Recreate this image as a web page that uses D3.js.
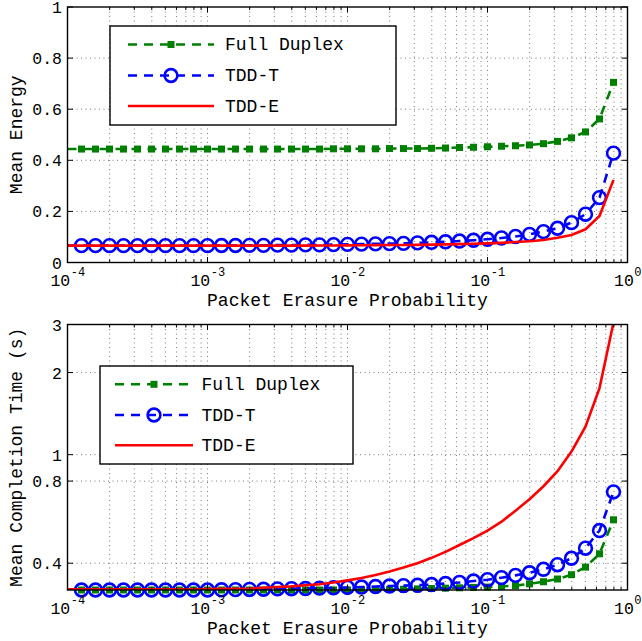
<!DOCTYPE html>
<html><head><meta charset="utf-8">
<script src="https://cdn.jsdelivr.net/npm/d3@7"></script>
<style>
body{margin:0;background:#fff}
svg{display:block}
text{font-family:"Liberation Mono","Courier New",monospace;fill:#000}
</style>
</head><body>
<svg id="chart" width="642" height="641"></svg>
<script>
// ---- data ----
// packet erasure probability sample points, as log10 exponents
const pExponents = [-4.0,-3.9,-3.8,-3.7,-3.6,-3.5,-3.4,-3.3,-3.2,-3.1,
  -3.0,-2.9,-2.8,-2.7,-2.6,-2.5,-2.4,-2.3,-2.2,-2.1,
  -2.0,-1.9,-1.8,-1.7,-1.6,-1.5,-1.4,-1.3,-1.2,-1.1,
  -1.0,-0.9,-0.8,-0.7,-0.6,-0.5,-0.4,-0.3,-0.2,-0.1];

const seriesNames = ["Full Duplex", "TDD-T", "TDD-E"];

// top panel: mean energy
const energyFD = [0.444,0.444,0.444,0.444,0.444,0.444,0.444,0.444,0.444,0.444,
  0.444,0.444,0.444,0.444,0.444,0.444,0.444,0.444,0.444,0.445,
  0.445,0.445,0.445,0.446,0.446,0.446,0.447,0.448,0.450,0.451,
  0.453,0.455,0.457,0.460,0.465,0.474,0.488,0.511,0.562,0.705];
const energyTDDT = [0.066,0.066,0.066,0.066,0.066,0.066,0.066,0.066,0.066,0.066,
  0.066,0.0665,0.0665,0.067,0.067,0.068,0.068,0.069,0.069,0.070,
  0.071,0.072,0.073,0.074,0.075,0.077,0.079,0.081,0.084,0.087,
  0.091,0.096,0.102,0.110,0.121,0.134,0.156,0.189,0.254,0.428];
const energyTDDE = [0.066,0.066,0.066,0.066,0.066,0.066,0.066,0.066,0.066,0.066,
  0.066,0.066,0.066,0.066,0.066,0.066,0.066,0.0662,0.0663,0.0665,
  0.067,0.0675,0.068,0.0683,0.0687,0.069,0.070,0.071,0.072,0.0735,
  0.075,0.077,0.080,0.083,0.088,0.097,0.108,0.130,0.182,0.3235];

// bottom panel: mean completion time (s)
const timeFD = [0.319,0.319,0.319,0.319,0.319,0.319,0.319,0.319,0.319,0.319,
  0.319,0.319,0.319,0.319,0.319,0.319,0.319,0.319,0.319,0.319,
  0.319,0.3195,0.320,0.3205,0.321,0.322,0.323,0.324,0.325,0.326,
  0.327,0.329,0.331,0.336,0.342,0.350,0.363,0.387,0.433,0.577];
const timeTDDT = [0.319,0.319,0.319,0.319,0.319,0.319,0.319,0.319,0.319,0.319,
  0.319,0.3195,0.320,0.3205,0.321,0.322,0.3225,0.323,0.324,0.325,
  0.326,0.327,0.3285,0.330,0.331,0.332,0.334,0.337,0.340,0.344,
  0.348,0.354,0.361,0.369,0.380,0.395,0.417,0.454,0.527,0.730];
const timeTDDE = [0.321,0.321,0.321,0.321,0.321,0.321,0.321,0.321,0.321,0.321,
  0.3215,0.322,0.3225,0.323,0.325,0.327,0.329,0.332,0.335,0.340,
  0.346,0.353,0.362,0.373,0.386,0.400,0.4185,0.440,0.4665,0.494,
  0.527,0.568,0.623,0.6865,0.766,0.870,1.026,1.267,1.754,3.05];

const xTickExponents = [-4,-3,-2,-1,0];
const energyTicks = [0,0.2,0.4,0.6,0.8,1];
const energyTickLabels = ["0","0.2","0.4","0.6","0.8","1"];
const timeTicks = [0.4,0.8,1,2,3];
const timeTickLabels = ["0.4","0.8","1","2","3"];
const xLabel = "Packet Erasure Probability";
const energyLabel = "Mean Energy";
const timeLabel = "Mean Completion Time (s)";

// ---- styles ----
const colors = ["#008000","#0000ff","#ff0000"];
const svg = d3.select("#chart");
const left = 67.5, right = 627.5;

const pValues = pExponents.map(e => Math.pow(10, e));

function drawPanel(o) {
  const x = d3.scaleLog().domain([1e-4, 1]).range([left, right]);
  const y = o.y;
  const g = svg.append("g");
  const top = o.top, bottom = o.bottom;
  const clipId = "clip" + o.id;
  svg.append("clipPath").attr("id", clipId).append("rect")
    .attr("x", left).attr("y", top).attr("width", right-left).attr("height", bottom-top);

  // grid
  const minor = [];
  for (let e = -4; e < 0; e++) for (let m = 1; m <= 9; m++) minor.push(m*Math.pow(10,e));
  const gridG = g.append("g").attr("stroke","#000").attr("stroke-width",0.8)
    .attr("stroke-dasharray","1,3.5").attr("opacity",0.65);
  minor.filter(v => v > 1.0001e-4).forEach(v => {
    gridG.append("line").attr("x1",x(v)).attr("x2",x(v)).attr("y1",top).attr("y2",bottom);
  });
  o.ticks.forEach(t => {
    const yy = y(t);
    if (Math.abs(yy-top) < 1 || Math.abs(yy-bottom) < 1) return;
    gridG.append("line").attr("x1",left).attr("x2",right).attr("y1",yy).attr("y2",yy);
  });

  // series
  const series = o.series;
  const line = d3.line().x((d,i) => x(pValues[i])).y(d => y(d));
  const dashes = ["9,7","9,7",null];
  series.forEach((vals, si) => {
    g.append("path").attr("d", line(vals)).attr("fill","none")
      .attr("stroke", colors[si]).attr("stroke-width", 2.6)
      .attr("stroke-dasharray", dashes[si]).attr("clip-path", `url(#${clipId})`);
    if (si === 0) {
      g.append("g").selectAll("rect").data(vals.slice(1)).join("rect")
        .attr("x", (d,i) => x(pValues[i+1]) - 3.5).attr("y", d => y(d) - 3.5)
        .attr("width", 7).attr("height", 7).attr("fill", colors[0]);
    } else if (si === 1) {
      g.append("g").selectAll("circle").data(vals.slice(1)).join("circle")
        .attr("cx", (d,i) => x(pValues[i+1])).attr("cy", d => y(d))
        .attr("r", 6.4).attr("fill","none").attr("stroke", colors[1]).attr("stroke-width", 2.6);
    }
  });

  // box
  g.append("rect").attr("x",left).attr("y",top).attr("width",right-left).attr("height",bottom-top)
    .attr("fill","none").attr("stroke","#000").attr("stroke-width",1.4);

  // ticks
  const tk = g.append("g").attr("stroke","#000").attr("stroke-width",1);
  minor.concat([1]).forEach(v => {
    const isMajor = Math.abs(Math.log10(v) - Math.round(Math.log10(v))) < 1e-9;
    const L = isMajor ? 5.5 : 3;
    const xx = x(v);
    tk.append("line").attr("x1",xx).attr("x2",xx).attr("y1",bottom).attr("y2",bottom-L);
    tk.append("line").attr("x1",xx).attr("x2",xx).attr("y1",top).attr("y2",top+L);
  });
  o.ticks.forEach(t => {
    const yy = y(t);
    tk.append("line").attr("x1",left).attr("x2",left+5.5).attr("y1",yy).attr("y2",yy);
    tk.append("line").attr("x1",right).attr("x2",right-5.5).attr("y1",yy).attr("y2",yy);
  });

  // x tick labels: "10" plus a separate superscript exponent, centred together on the tick
  xTickExponents.forEach(e => {
    const base = g.append("text").attr("y", bottom + 23.5).style("font-size","16.5px").text("10");
    const sup = g.append("text").attr("y", bottom + 13.5).style("font-size","12px")
      .text(e === 0 ? "0" : "-" + Math.abs(e));
    const wb = base.node().getComputedTextLength();
    const ws = sup.node().getComputedTextLength();
    const x0 = x(Math.pow(10,e)) - (wb + ws) / 2;
    base.attr("x", x0);
    sup.attr("x", x0 + wb + 0.5);
  });
  // y tick labels
  o.ticks.forEach((t, i) => {
    g.append("text").attr("x", left - 5.5).attr("y", y(t) + 6)
      .attr("text-anchor","end").style("font-size","16.5px").text(o.tickLabels[i]);
  });
  // axis labels
  g.append("text").attr("x", (left+right)/2).attr("y", o.xLabelY)
    .attr("text-anchor","middle").style("font-size","18px").text(xLabel);
  g.append("text").attr("transform", `translate(22,${(top+bottom)/2}) rotate(-90)`)
    .attr("text-anchor","middle").style("font-size","18px").text(o.yLabel);

  // legend
  const lg = o.legend;
  const lgG = svg.append("g");
  lgG.append("rect").attr("x",lg.x).attr("y",lg.y).attr("width",lg.w).attr("height",lg.h)
    .attr("fill","#fff").attr("stroke","#000").attr("stroke-width",1.4);
  seriesNames.forEach((name, si) => {
    const yy = lg.rows[si];
    lgG.append("line").attr("x1",lg.x1).attr("x2",lg.x2).attr("y1",yy).attr("y2",yy)
      .attr("stroke",colors[si]).attr("stroke-width",2.6).attr("stroke-dasharray",dashes[si]);
    const mx = (lg.x1+lg.x2)/2;
    if (si === 0) lgG.append("rect").attr("x",mx-3.5).attr("y",yy-3.5).attr("width",7).attr("height",7).attr("fill",colors[0]);
    if (si === 1) lgG.append("circle").attr("cx",mx).attr("cy",yy).attr("r",6.4).attr("fill","none").attr("stroke",colors[1]).attr("stroke-width",2.6);
    lgG.append("text").attr("x",lg.tx).attr("y",yy+5.5).style("font-size","18px").text(name);
  });
}

drawPanel({
  id: "a", top: 7, bottom: 262.5,
  y: d3.scaleLinear().domain([0,1]).range([262.5,7]),
  ticks: energyTicks, tickLabels: energyTickLabels,
  series: [energyFD, energyTDDT, energyTDDE],
  xLabelY: 306, yLabel: energyLabel,
  legend: {x:110, y:26, w:286, h:99, rows:[44.5,75.5,106], x1:128, x2:214, tx:225}
});
drawPanel({
  id: "b", top: 324.5, bottom: 590,
  y: d3.scaleLog().domain([0.319,3]).range([590,324.5]),
  ticks: timeTicks, tickLabels: timeTickLabels,
  series: [timeFD, timeTDDT, timeTDDE],
  xLabelY: 634, yLabel: timeLabel,
  legend: {x:100, y:366, w:253, h:98, rows:[384.3,415,445.3], x1:115, x2:193, tx:201.5}
});
</script>
</body></html>
